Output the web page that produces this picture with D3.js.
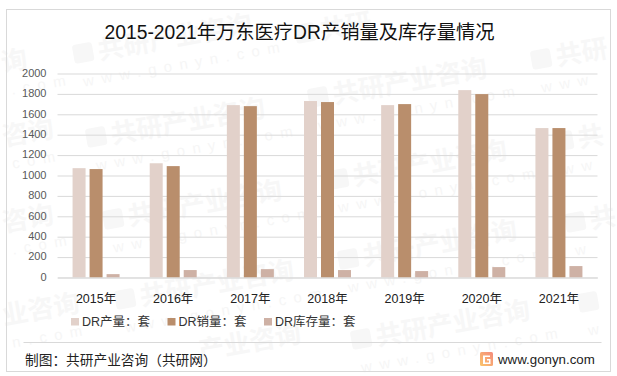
<!DOCTYPE html>
<html>
<head>
<meta charset="utf-8">
<script src="https://cdn.jsdelivr.net/npm/d3@7"></script>
<style>
  html, body { margin: 0; padding: 0; background: #fff; }
  svg { display: block; }
  text { font-family: "Liberation Sans", "Noto Sans CJK SC", sans-serif; }
</style>
</head>
<body>
<svg id="chart"></svg>
<script>
// chart values
const years = ["2015年", "2016年", "2017年", "2018年", "2019年", "2020年", "2021年"];
const seriesNames = ["DR产量：套", "DR销量：套", "DR库存量：套"];
const production = [1072, 1120, 1690, 1730, 1690, 1837, 1465];
const sales = [1063, 1092, 1680, 1720, 1700, 1798, 1465];
const stock = [33, 73, 82, 73, 63, 102, 112];
const yTicks = [0, 200, 400, 600, 800, 1000, 1200, 1400, 1600, 1800, 2000];
const colors = ["#e2d1ca", "#b98e6c", "#ceb1a5"];

// background watermark: left end, logo or not, name, url
// the ones at the edges only keep the characters that fit
const marks = [
    [75, 64, true, "共研产业咨询", "www.gonyn.com"],
    [88, 148, true, "共研产业咨询", "www.gonyn.com"],
    [310, 108, true, "共研产业咨询", "www.gonyn.com"],
    [533, 70, true, "共研", "www"],
    [330, 190, true, "共研产业咨询", "www.gonyn.com"],
    [555, 152, true, "共", "ww"],
    [3, 72, false, "询", ".com"],
    [4, 146, false, "咨询", "com"],
    [105, 230, true, "共研产业咨询", "www.gonyn.com"],
    [4, 232, false, "咨询", ".com"],
    [117, 310, true, "共研产业咨询", "www.gonyn.com"],
    [4, 325, false, "业咨询", "n.com"],
    [200, 360, false, "产业咨询", ""],
    [340, 270, true, "共研产业咨询", "www.gonyn.com"],
    [353, 350, true, "共研产业咨询", "www.gonyn.com"],
    [567, 233, true, "共", "w"],
    [580, 313, true, "", "w"],
    [297, 44, true, "共研", ""]
];

const width = 617;
const height = 376;
const margin = { top: 73.5, right: 19.5, bottom: 98.5, left: 57.5 };

const svg = d3.select("#chart")
    .attr("width", width)
    .attr("height", height);

const x = d3.scaleBand()
    .domain(years)
    .range([margin.left, width - margin.right]);

const y = d3.scaleLinear()
    .domain([0, 2000])
    .range([height - margin.bottom, margin.top]);

const inner = d3.scaleBand()
    .domain(d3.range(3))
    .range([-23.5, 23.5])
    .paddingInner(4 / 17)
    .paddingOuter(0);

// watermark sits behind everything
const wm = svg.append("g").selectAll("g")
    .data(marks)
    .join("g")
    .attr("transform", d => `translate(${d[0]},${d[1]}) rotate(-10)`);

wm.filter(d => d[2]).append("rect")
    .attr("x", 0).attr("y", -19)
    .attr("width", 20).attr("height", 19)
    .attr("rx", 3)
    .attr("fill", "#f7f7f7");

wm.append("text")
    .attr("x", d => d[2] ? 25 : 0)
    .attr("font-size", 26)
    .attr("font-weight", 700)
    .attr("fill", "#f7f7f7")
    .text(d => d[3]);

wm.append("text")
    .attr("x", 5)
    .attr("y", 24)
    .attr("font-size", 15)
    .attr("letter-spacing", 7.5)
    .attr("fill", "#f6f6f6")
    .text(d => d[4]);

// frame
svg.append("rect")
    .attr("x", 6.5).attr("y", 9.5)
    .attr("width", 604).attr("height", 362)
    .attr("fill", "none")
    .attr("stroke", "#d9d9d9")
    .attr("stroke-width", 1);

svg.append("text")
    .attr("x", 299.5)
    .attr("y", 39)
    .attr("text-anchor", "middle")
    .attr("font-size", 19.3)
    .attr("fill", "#111")
    .text("2015-2021年万东医疗DR产销量及库存量情况");

// y axis, gridlines drawn from tick size
const yAxis = svg.append("g")
    .attr("transform", `translate(${margin.left},0)`)
    .call(d3.axisLeft(y).tickValues(yTicks).tickFormat(d3.format("d")).tickSize(-(width - margin.left - margin.right)).tickPadding(11));

yAxis.select(".domain").remove();
yAxis.selectAll("line").attr("stroke", "#d9d9d9").attr("stroke-width", 1);
yAxis.selectAll("text").attr("font-size", 11).attr("fill", "#595959").attr("dy", "0.25em");

// bars
[production, sales, stock].forEach((values, i) => {
    svg.append("g")
        .attr("fill", colors[i])
        .selectAll("rect")
        .data(values)
        .join("rect")
        .attr("x", (d, j) => x(years[j]) + x.bandwidth() / 2 + inner(i))
        .attr("y", d => y(d))
        .attr("width", inner.bandwidth())
        .attr("height", d => y(0) - y(d));
});

// x axis
const xAxis = svg.append("g")
    .attr("transform", `translate(0,${height - margin.bottom})`)
    .call(d3.axisBottom(x).tickSize(0).tickPadding(17));

xAxis.select(".domain").attr("stroke", "#d9d9d9");
xAxis.selectAll("text").attr("font-size", 12.5).attr("fill", "#222");

// legend
const legendX = d3.scalePoint()
    .domain(seriesNames)
    .range([71, 264]);

const legend = svg.append("g").selectAll("g")
    .data(seriesNames)
    .join("g")
    .attr("transform", d => `translate(${legendX(d)},318)`);

legend.append("rect")
    .attr("width", 8).attr("height", 7.5)
    .attr("fill", (d, i) => colors[i]);

legend.append("text")
    .attr("x", 11)
    .attr("y", 8)
    .attr("font-size", 12.5)
    .attr("fill", "#333")
    .text(d => d);

// footer
svg.append("line")
    .attr("x1", 23.5).attr("x2", 601.5)
    .attr("y1", 342.5).attr("y2", 342.5)
    .attr("stroke", "#d9d9d9");

svg.append("text")
    .attr("x", 25)
    .attr("y", 365)
    .attr("font-size", 13.7)
    .attr("fill", "#222")
    .text("制图：共研产业咨询（共研网）");

const grad = svg.append("defs").append("linearGradient")
    .attr("id", "logo")
    .attr("x1", 0).attr("x2", 1).attr("y1", 1).attr("y2", 0);
grad.append("stop").attr("offset", 0).attr("stop-color", "#fbc56b");
grad.append("stop").attr("offset", 1).attr("stop-color", "#f48a7c");

svg.append("rect")
    .attr("x", 480).attr("y", 352)
    .attr("width", 13).attr("height", 14)
    .attr("rx", 1.5)
    .attr("fill", "url(#logo)");

svg.append("path")
    .attr("d", "M483 355.5H490V357H485V362.5H489V360.5H487V359H490.5V364H483Z")
    .attr("fill", "#fff");

svg.append("text")
    .attr("x", 498)
    .attr("y", 364)
    .attr("font-size", 13.3)
    .attr("fill", "#222")
    .text("www.gonyn.com");
</script>
</body>
</html>
